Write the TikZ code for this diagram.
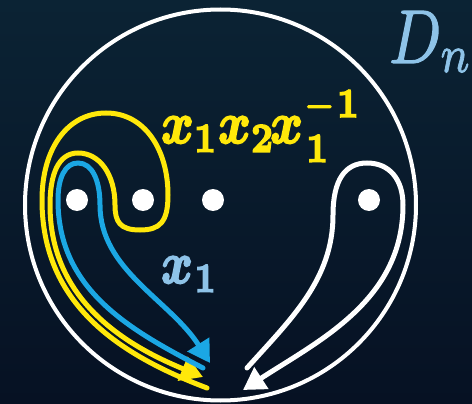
\documentclass[tikz,border=0pt]{standalone}
\usepackage{unicode-math}
\setmathfont{Latin Modern Math}
\setmathfont{Latin Modern Math}[version=heavy, FakeBold=3.5]
\setmathfont{Latin Modern Math}[version=medium, FakeBold=1.6]
\usetikzlibrary{arrows.meta}
\definecolor{bgtop}{HTML}{0B2334}
\definecolor{bgbot}{HTML}{061123}
\definecolor{myyellow}{HTML}{FFE80A}
\definecolor{myblue}{HTML}{1BA7E4}
\definecolor{lblue}{HTML}{8EC3E8}
\newcommand{\scr}[2]{\raisebox{#1}{$\scriptstyle #2$}}
\begin{document}
\begin{tikzpicture}[x=1pt,y=-1pt,
  strand/.style={line width=5pt, line cap=round},
  tipped/.style={-{Triangle[length=22pt,width=25pt]}},
  lbl/.style={inner sep=0pt, anchor=base west},
  puncture/.style={circle, fill=white, minimum size=22pt, inner sep=0pt}]
\clip (0,0) rectangle (472,404);
\shade[top color=bgtop, bottom color=bgbot] (0,0) rectangle (472,404);
\node[draw=white, line width=4pt, circle, minimum size=391pt, inner sep=0pt] (disk) at (220.5,205) {};
\node[puncture] (p1) at (77,200) {};
\node[puncture] (p2) at (143,200) {};
\node[puncture] (p3) at (213,200) {};
\node[puncture] (p4) at (369,200) {};
% yellow loop x1 x2 x1^-1
\draw[strand, myyellow, tipped] (207,388) .. controls (120,355) and (42,305) .. (42,200)
  .. controls (42,148) and (68,113) .. (106,113)
  .. controls (145,113) and (168,150) .. (168,195)
  .. controls (168,222) and (160,230) .. (140,230)
  .. controls (120,230) and (115,222) .. (115,205)
  .. controls (115,175) and (100,153) .. (78,153)
  .. controls (58,153) and (50,175) .. (50,205)
  .. controls (50,300) and (125,345) .. (203,377);
% blue loop x1
\draw[strand, myblue, tipped] (203,368) .. controls (130,330) and (58,290) .. (58,200)
  .. controls (58,178) and (65,163) .. (78,163)
  .. controls (92,163) and (100,180) .. (100,205)
  .. controls (100,270) and (170,300) .. (210,363);
% white loop
\draw[strand, white, tipped] (247,368) .. controls (290,320) and (333,280) .. (333,215)
  .. controls (333,180) and (345,163) .. (367,163)
  .. controls (390,163) and (403,180) .. (403,205)
  .. controls (403,300) and (320,340) .. (243,390);
% labels
\node[lbl, text=myyellow] (wlabel) at (161,143)
  {\scalebox{4.95}[5.9]{\mathversion{heavy}%
    $\symbfit{x}$\scr{-1.5pt}{\symbf{1}}\kern0.4pt%
    $\symbfit{x}$\scr{-1.5pt}{\symbf{2}}\kern-0.6pt%
    $\symbfit{x}$\kern0.6pt\rlap{\scr{-3.2pt}{\symbf{1}}}\scr{4.4pt}{-\mkern2mu\symbf{1}}}};
\node[lbl, text=lblue] (xlabel) at (161,283)
  {\scalebox{4.8}[5.9]{\mathversion{heavy}$\symbfit{x}$\kern0.3pt\scr{-1.5pt}{\symbf{1}}}};
\node[lbl, text=lblue] (dn) at (389,63)
  {\scalebox{6.1}[7.6]{\mathversion{medium}$D$\scr{-1.2pt}{n}}};
\end{tikzpicture}
\end{document}
